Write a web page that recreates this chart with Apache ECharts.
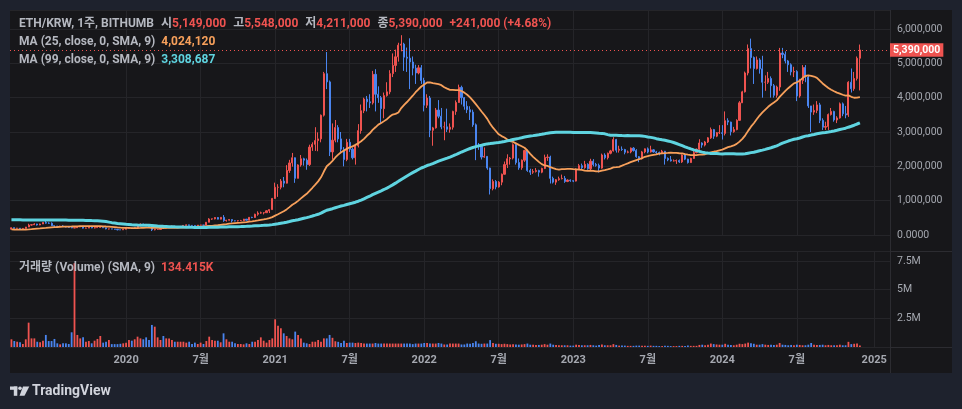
<!DOCTYPE html>
<html>
<head>
<meta charset="utf-8">
<script src="https://cdn.jsdelivr.net/npm/echarts@6/dist/echarts.min.js"></script>
<style>
html,body{margin:0;padding:0;background:#1e222d;overflow:hidden;}
#wrap{position:relative;width:962px;height:409px;}
.pnl{position:absolute;left:10px;top:10px;width:942px;height:363px;background:#17171a;}
.sep{position:absolute;background:#2c2c31;}
#c{position:absolute;left:0;top:0;width:962px;height:409px;}
</style>
</head>
<body>
<div id="wrap">
<div class="pnl"></div>
<div class="sep" style="left:890px;top:10px;width:1px;height:363px"></div>
<div class="sep" style="left:10px;top:251px;width:942px;height:1px"></div>
<div class="sep" style="left:10px;top:347px;width:942px;height:1px"></div>
<div id="c"></div>
</div>
<script>
const FONT = "Roboto, 'Noto Sans CJK KR', sans-serif";
const RED = '#ef5350', BLUE = '#4a85ef', ORANGE = '#f7a05b', CYAN = '#5fd4e0';
const TXT = '#b5b8c0', AXT = '#a5a8b0', GRID = '#252529';

// weekly categories
const firstWeek = '2019-04-01';
const categoryCount = 307;

// time-axis tick labels (first weekly candle of the period)
const xTickLabels = [
  ['2020-01-06','2020'],['2020-07-06','7월'],['2021-01-04','2021'],['2021-07-05','7월'],
  ['2022-01-03','2022'],['2022-07-04','7월'],['2023-01-02','2023'],['2023-07-03','7월'],
  ['2024-01-01','2024'],['2024-07-01','7월'],['2025-01-06','2025']
];

// weekly closes before the visible range (thousand KRW), used by the moving averages
const preCloses = [110,170,210,300,330,430,380,330,300,230,260,235,255,340,340,380,440,340,290,330,340,345,385,345,340,345,365,405,540,530,590,850,920,1020,
1650,1700,1300,1300,930,960,1030,940,950,780,610,500,440,420,540,670,720,810,740,760,620,670,570,540,510,500,530,505,525,525,460,360,340,310,320,225,245,275,260,255,220,230,225,235,235,200,125,125,97,97,150,150,170,
142,136,130,122,135,158,175,147,152,158,153,168];

// weekly candles [open, close, low, high] in thousand KRW
const ohlc2019 = [
[168,212,166,220],[212,196,190,218],[196,198,190,206],[198,186,180,204],[186,192,180,198],[192,232,188,235],[232,290,230,328],[290,298,272,318],
[298,320,290,342],[320,292,275,325],[292,320,285,330],[320,365,318,370],[365,345,330,435],[345,340,320,370],[340,270,265,368],[270,262,225,275],
[262,245,240,265],[245,262,240,270],[262,250,245,285],[250,232,220,252],[232,224,215,235],[224,205,200,228],[205,212,200,215],[212,233,208,235],
[233,256,230,265],[256,200,190,258],[200,202,195,215],[202,226,200,232],[226,205,198,228],[205,214,192,232],[214,218,208,228],[218,221,212,230],
[221,208,205,226],[208,178,165,210],[178,178,160,182],[178,174,170,180],[174,167,162,176],[167,152,135,170],[152,150,146,154],[150,168,148,170]];
const ohlc2020 = [
[168,196,165,198],[196,201,190,212],[201,197,188,204],[197,213,192,220],[213,262,212,265],[262,315,260,340],[315,310,285,330],[310,268,262,320],
[268,245,235,285],[245,152,115,250],[152,162,135,175],[162,162,155,175],[162,208,160,215],[208,195,190,215],[195,228,185,230],[228,238,220,240],
[238,258,235,275],[258,228,200,260],[228,242,220,245],[242,250,240,258],[250,280,240,285],[280,295,275,305],[295,280,270,300],[280,278,272,285],
[278,270,265,285],[270,288,265,290],[288,288,283,296],[288,286,280,292],[286,372,285,375],[372,465,370,490],[465,470,440,475],[470,510,455,520],
[510,462,455,525],[462,515,455,520],[515,420,385,580],[420,432,390,440],[432,450,420,460],[450,415,360,455],[415,412,400,420],[412,418,395,425],
[418,418,410,440],[418,462,410,470],[462,432,425,465],[432,515,430,520],[515,510,490,530],[510,605,505,620],[605,640,560,690],[640,645,620,680],
[645,650,600,665],[650,705,645,720],[705,740,640,740],[740,1065,735,1080]];
const ohlc2021 = [
[1065,1390,1080,1525],[1390,1390,1110,1480],[1390,1570,1330,1630],[1570,1510,1390,1690],[1510,1880,1500,2035],[1880,2100,1810,2190],[2100,2250,1990,2390],[2250,1650,1520,2260],
[1650,2040,1650,2060],[2040,2220,1990,2330],[2220,2180,2020,2250],[2180,2050,1900,2230],[2050,2560,2010,2630],[2560,2640,2450,2700],[2640,2750,2450,3140],[2750,2800,2440,2990],
[2800,3490,2700,3510],[3490,4700,3450,4750],[4700,4460,4250,5330],[4460,2420,2300,4500],[2420,2760,2200,3250],[2760,3130,2700,3350],[3130,2800,2700,3200],[2800,2500,2420,3000],
[2500,2200,2000,2560],[2200,2700,2150,2800],[2700,2500,2420,2800],[2500,2250,2200,2550],[2250,2600,2050,2620],[2600,3040,2550,3230],[3040,3620,2950,3800],[3620,3960,3550,4000],
[3960,3880,3600,4050],[3880,3850,3700,4100],[3850,4680,3800,4780],[4680,4100,3600,4830],[4100,4000,3850,4330],[4000,3680,3250,4050],[3680,4060,3400,4150],[4060,4170,4030,4450],
[4170,4700,4100,4800],[4700,4940,4600,5290],[4940,5190,4750,5400],[5190,5530,5050,5600],[5530,5560,5350,5820],[5560,5180,4780,5600],[5180,5150,4750,5460],[5150,5040,4250,5730],
[5040,4860,4650,5200],[4860,4720,4400,4960],[4720,4870,4680,4950],[4870,4500,4400,4950]];
const ohlc2022 = [
[4500,3780,3600,4580],[3780,3990,3700,4100],[3990,3050,2850,4050],[3050,3120,2600,3150],[3120,3640,3100,3700],[3640,3460,3400,3930],[3460,3150,3080,3700],[3150,3150,2760,3300],
[3150,3080,3000,3680],[3080,3140,2980,3250],[3140,3600,3070,3620],[3600,3860,3500,3920],[3860,4300,3850,4380],[4300,4000,3800,4350],[4000,3750,3650,4020],[3750,3650,3550,3900],
[3650,3580,3350,3750],[3580,3210,3150,3650],[3210,2620,2180,3250],[2620,2580,2480,2680],[2580,2270,2200,2650],[2270,2290,2250,2550],[2290,1950,1900,2300],[1950,1350,1180,1960],
[1350,1560,1300,1620],[1560,1400,1330,1600],[1400,1540,1380,1570],[1540,1770,1450,1790],[1770,2050,1760,2140],[2050,2220,1950,2350],[2220,2240,2050,2270],[2240,2630,2200,2670],
[2630,2110,2050,2680],[2110,1960,1900,2230],[1960,2180,1900,2200],[2180,2460,2130,2480],[2460,1880,1840,2480],[1880,1830,1750,1930],[1830,1850,1780,1920],[1850,1880,1820,1950],
[1880,1830,1700,1900],[1830,1940,1800,1960],[1940,2260,1920,2340],[2260,2270,2160,2350],[2270,1650,1500,2310],[1650,1540,1500,1700],[1540,1610,1460,1630],[1610,1640,1580,1700],
[1640,1650,1620,1760],[1650,1560,1520,1720],[1560,1600,1540,1620],[1600,1580,1550,1620]];
const ohlc2023 = [
[1580,1570,1540,1590],[1570,1920,1560,1940],[1920,2020,1900,2070],[2020,1960,1920,2080],[1960,2060,1930,2160],[2060,1930,1900,2090],[1930,2150,1890,2220],[2150,2050,2000,2210],
[2050,2030,1990,2100],[2030,1950,1820,2080],[1950,2330,1930,2370],[2330,2250,2200,2380],[2250,2380,2200,2400],[2380,2450,2350,2480],[2450,2780,2430,2850],[2780,2470,2400,2800],
[2470,2500,2400,2600],[2500,2490,2450,2580],[2490,2410,2350,2510],[2410,2420,2380,2460],[2420,2530,2380,2550],[2530,2460,2430,2560],[2460,2280,2250,2500],[2280,2220,2120,2300],
[2220,2420,2200,2450],[2420,2510,2380,2520],[2510,2420,2380,2550],[2420,2480,2400,2600],[2480,2420,2400,2500],[2420,2400,2350,2450],[2400,2390,2320,2430],[2390,2440,2380,2480],
[2440,2230,2050,2450],[2230,2190,2150,2260],[2190,2160,2140,2300],[2160,2160,2140,2200],[2160,2170,2070,2200],[2170,2130,2100,2200],[2130,2330,2100,2350],[2330,2210,2180,2380],
[2210,2110,2080,2220],[2110,2230,2100,2250],[2230,2400,2220,2500],[2400,2500,2380,2520],[2500,2680,2480,2790],[2680,2620,2540,2700],[2620,2710,2580,2740],[2710,2830,2680,2850],
[2830,3070,2800,3130],[3070,2880,2800,3090],[2880,2980,2850,3000],[2980,2980,2940,3200]];
const ohlc2024 = [
[2980,2960,2780,3200],[2960,3330,2900,3600],[3330,3290,3200,3400],[3290,3010,2900,3300],[3010,3070,2980,3150],[3070,3340,3050,3370],[3340,3850,3330,3900],[3850,4170,3850,4200],
[4170,4720,4150,4760],[4720,5430,4650,5550],[5430,5170,4850,5720],[5170,4850,4400,5200],[4850,5100,4820,5200],[5100,4840,4700,5150],[4840,4450,4000,5220],[4450,4450,4200,4650],
[4450,4560,4400,4750],[4560,4350,4000,4620],[4350,4070,4000,4400],[4070,4310,4000,4350],[4310,5300,4200,5450],[5300,5260,5150,5450],[5260,5070,5000,5350],[5070,4960,4750,5100],
[4960,4750,4650,5000],[4750,4760,4600,4900],[4760,4050,3900,4800],[4050,4500,4000,4550],[4500,4880,4400,4950],[4880,4600,4450,4950],[4600,3760,3700,4650],[3760,3580,3000,3760],
[3580,3630,3500,3800],[3630,3790,3550,3900],[3790,3340,3260,3850],[3340,3140,3060,3400],[3140,3160,3060,3300],[3160,3510,3060,3540],[3510,3600,3480,3700],[3600,3350,3300,3620],
[3350,3410,3260,3460],[3410,3820,3390,3860],[3820,3530,3460,3860],[3530,3500,3400,3760],[3500,4450,3440,4480],[4450,4260,4150,4850],[4260,4560,4200,4750],[4560,5149,4500,5200],
[5149,5390,4211,5548]];

// weekly volume, million ETH
const volume2019_2020 = [
0.67,0.52,0.46,0.41,0.26,0.67,2.12,0.75,0.75,0.46, 0.41,0.55,1.05,0.52,0.52,0.70,0.32,0.23,0.32,0.32,
0.26,1.28,7.3,1.05,0.75,0.84,0.46,0.52,0.32,0.55, 0.70,0.96,0.38,0.46,0.61,0.25,0.25,0.25,0.28,0.32,
0.38,0.61,0.55,0.67,0.90,0.75,0.67,0.84,0.61,1.92, 1.77,0.84,0.61,0.96,0.75,0.75,0.61,0.46,0.46,0.46,
0.46,0.38,0.46,0.26,0.38,0.26,0.38,0.26,0.52,0.90, 0.61,0.55,0.55,0.41,1.19,0.67,0.46,0.46,0.32,0.26,
0.26,0.23,0.32,0.26,0.46,0.46,0.61,0.84,0.55,0.38, 0.61,0.75];
const volume2021 = [
2.41,1.86,1.63,1.19,0.96,0.75,0.67,1.34,1.05,0.75, 0.38,0.32,0.26,0.46,0.46,0.61,0.45,0.75,0.75,1.05,
0.8,0.5,0.45,0.35,0.55,0.35,0.38,0.38,0.35,0.38, 0.35,0.3,0.3,0.3,0.3,0.35,0.3,0.3,0.3,0.3,
0.3,0.3,0.3,0.3,0.3,0.3,0.3,0.3,0.25,0.3, 0.3,0.3];
const volume2022 = [
0.35,0.35,0.3,0.3,0.3,0.35,0.3,0.22,0.22,0.3, 0.3,0.3,0.3,0.22,0.22,0.3,0.28,0.35,0.5,0.3,
0.28,0.3,0.3,0.6,0.35,0.28,0.28,0.25,0.28,0.25, 0.22,0.25,0.22,0.2,0.22,0.25,0.3,0.2,0.2,0.18,
0.18,0.2,0.25,0.2,0.3,0.2,0.18,0.15,0.15,0.15, 0.15,0.12];
const volume2023 = [
0.12,0.2,0.18,0.15,0.15,0.15,0.18,0.15,0.12,0.18, 0.22,0.15,0.15,0.15,0.25,0.18,0.12,0.12,0.12,0.1,
0.1,0.1,0.12,0.12,0.1,0.1,0.1,0.12,0.1,0.1, 0.08,0.08,0.1,0.1,0.08,0.08,0.08,0.1,0.1,0.08,
0.12,0.1,0.1,0.1,0.18,0.2,0.15,0.2,0.3,0.25, 0.22,0.2];
const volume2024 = [
0.2,0.28,0.2,0.18,0.15,0.2,0.28,0.25,0.3,0.38, 0.32,0.28,0.2,0.2,0.25,0.2,0.18,0.2,0.18,0.2,
0.35,0.2,0.18,0.15,0.18,0.15,0.2,0.18,0.15,0.15, 0.2,0.35,0.2,0.18,0.18,0.2,0.15,0.18,0.15,0.15,
0.15,0.2,0.15,0.15,0.45,0.25,0.28,0.3,0.134415];

// legend texts as shown
const symbolText = 'ETH/KRW, 1주, BITHUMB';
const ma25Name = 'MA (25, close, 0, SMA, 9)', ma25Text = '4,024,120';
const ma99Name = 'MA (99, close, 0, SMA, 9)', ma99Text = '3,308,687';
const volName = '거래량 (Volume) (SMA, 9)', volText = '134.415K';

// ---- build ----
const fmt = v => Math.round(v).toLocaleString('en-US');
const categories = [];
const t0 = Date.parse(firstWeek + 'T00:00:00Z');
for (let i = 0; i < categoryCount; i++) categories.push(new Date(t0 + i * 7 * 86400000).toISOString().slice(0, 10));
const tickMap = new Map(xTickLabels);

const ohlc = [].concat(ohlc2019, ohlc2020, ohlc2021, ohlc2022, ohlc2023, ohlc2024);
const candles = ohlc.map(r => r.map(v => v * 1000));
const closesAll = preCloses.concat(ohlc.map(r => r[1]));
function sma(n) {
  const off = preCloses.length;
  return ohlc.map((r, i) => {
    const e = off + i;
    if (e + 1 < n) return null;
    let s = 0;
    for (let k = e - n + 1; k <= e; k++) s += closesAll[k];
    return Math.round(s / n * 1000);
  });
}
const ma25 = sma(25), ma99 = sma(99);
const volumes = [].concat(volume2019_2020, volume2021, volume2022, volume2023, volume2024);
const volData = volumes.map((v, i) => ({
  value: Math.round(v * 1e6),
  itemStyle: { color: ohlc[i][1] >= ohlc[i][0] ? RED : BLUE }
}));

const last = candles[candles.length - 1];
const prevClose = candles[candles.length - 2][1];
const chg = last[1] - prevClose;
const pct = (chg / prevClose * 100).toFixed(2);
const lastVolume = volData[volData.length - 1].value;

const richBase = { fontSize: 12, fontFamily: FONT };
const rich = {
  g: Object.assign({ color: TXT }, richBase),
  gs: Object.assign({ color: TXT, padding: [0, 0, 0, 7] }, richBase),
  r: Object.assign({ color: RED }, richBase),
  rs: Object.assign({ color: RED, padding: [0, 0, 0, 7] }, richBase),
  o: Object.assign({ color: ORANGE, padding: [0, 0, 0, 6] }, richBase),
  c: Object.assign({ color: CYAN, padding: [0, 0, 0, 6] }, richBase),
  v: Object.assign({ color: RED, padding: [0, 0, 0, 6] }, richBase)
};
const headline = `{g|${symbolText}}{gs|시}{r|${fmt(last[0])}}{gs|고}{r|${fmt(last[3])}}{gs|저}{r|${fmt(last[2])}}{gs|종}{r|${fmt(last[1])}}{rs|${chg >= 0 ? '+' : ''}${fmt(chg)} (${chg >= 0 ? '+' : ''}${pct}%)}`;

const gridLineSeries = (ax) => ({
  type: 'line', xAxisIndex: ax, yAxisIndex: ax, data: categories.map(() => null),
  silent: true, z: 1, showSymbol: false,
  markLine: {
    silent: true, symbol: ['none', 'none'], z: 1, animation: false,
    label: { show: false },
    lineStyle: { color: GRID, width: 1, type: 'solid' },
    data: xTickLabels.map(d => ({ xAxis: d[0] }))
  }
});

const chart = echarts.init(document.getElementById('c'), null, { renderer: 'canvas' });
chart.setOption({
  animation: false,
  backgroundColor: 'transparent',
  textStyle: { fontFamily: FONT },
  title: [
    { left: 19, top: 18, padding: 0, text: headline, textStyle: { rich } },
    { left: 19, top: 36, padding: 0, text: `{g|${ma25Name}}{o|${ma25Text}}`, textStyle: { rich } },
    { left: 19, top: 54, padding: 0, text: `{g|${ma99Name}}{c|${ma99Text}}`, textStyle: { rich } },
    { left: 19, top: 262, padding: 0, text: `{g|${volName}}{v|${volText}}`, textStyle: { rich } }
  ],
  grid: [
    { left: 10, top: 10, width: 880, height: 225 },
    { left: 10, top: 251, width: 880, height: 96 }
  ],
  xAxis: [
    { type: 'category', gridIndex: 0, data: categories, boundaryGap: true,
      axisLine: { show: false }, axisTick: { show: false }, axisLabel: { show: false }, splitLine: { show: false } },
    { type: 'category', gridIndex: 1, data: categories, boundaryGap: true,
      axisLine: { show: false }, axisTick: { show: false }, splitLine: { show: false },
      axisLabel: { show: true, interval: (i, v) => tickMap.has(v), formatter: v => tickMap.get(v) || '',
        color: AXT, fontSize: 11, fontWeight: 'bold', margin: 8, fontFamily: FONT } }
  ],
  yAxis: [
    { type: 'value', gridIndex: 0, position: 'right', min: 0, max: 6554000, interval: 1000000,
      axisLine: { show: false }, axisTick: { show: false },
      splitLine: { show: true, lineStyle: { color: GRID, width: 1 } },
      axisLabel: { color: AXT, fontSize: 10.5, margin: 7, showMaxLabel: false, fontFamily: FONT,
        formatter: v => v === 0 ? '0.0000' : fmt(v) } },
    { type: 'value', gridIndex: 1, position: 'right', min: 0, max: 8360000, interval: 2500000,
      axisLine: { show: false }, axisTick: { show: false },
      splitLine: { show: true, lineStyle: { color: GRID, width: 1 } },
      axisLabel: { color: AXT, fontSize: 10.5, margin: 7, showMaxLabel: false, fontFamily: FONT,
        formatter: v => v === 0 ? '' : (v / 1e6) + 'M' } }
  ],
  series: [
    gridLineSeries(0),
    { type: 'candlestick', xAxisIndex: 0, yAxisIndex: 0, data: candles, barWidth: 1.6, z: 2,
      itemStyle: { color: RED, color0: BLUE, borderColor: RED, borderColor0: BLUE, borderWidth: 1 } },
    { type: 'line', xAxisIndex: 0, yAxisIndex: 0, data: ma25, showSymbol: false, z: 3,
      lineStyle: { color: ORANGE, width: 1.8 }, silent: true },
    { type: 'line', xAxisIndex: 0, yAxisIndex: 0, data: ma99, showSymbol: false, z: 4,
      lineStyle: { color: CYAN, width: 3 }, silent: true },
    { type: 'line', xAxisIndex: 0, yAxisIndex: 0, data: categories.map(() => null), clip: false, z: 5,
      markLine: { silent: true, symbol: ['none', 'none'], animation: false,
        lineStyle: { color: RED, width: 1, type: [1, 3] },
        label: { show: true, position: 'end', distance: 0, formatter: () => fmt(last[1]),
          color: '#ffffff', backgroundColor: RED, padding: [2, 3, 1, 3], fontSize: 10.5, fontWeight: 'bold', fontFamily: FONT },
        data: [{ yAxis: last[1] }] } },
    gridLineSeries(1),
    { type: 'bar', xAxisIndex: 1, yAxisIndex: 1, data: volData, barWidth: 1.8, z: 2 },
    { type: 'line', xAxisIndex: 1, yAxisIndex: 1, data: categories.map(() => null), clip: false, z: 5,
      markLine: { silent: true, symbol: ['none', 'none'], animation: false,
        lineStyle: { opacity: 0, width: 0 },
        label: { show: true, position: 'end', distance: 0, formatter: () => volText, offset: [0, -4],
          color: '#ffffff', backgroundColor: RED, padding: [2, 3, 1, 3], fontSize: 10.5, fontWeight: 'bold', fontFamily: FONT },
        data: [{ yAxis: lastVolume }] } }
  ],
  graphic: { elements: [
    { type: 'rect', shape: { x: 10, y: 386.5, width: 7.3, height: 3.3 }, style: { fill: '#d1d4dc' } },
    { type: 'rect', shape: { x: 13.8, y: 386.5, width: 3.5, height: 9.3 }, style: { fill: '#d1d4dc' } },
    { type: 'circle', shape: { cx: 20, cy: 388.2, r: 1.8 }, style: { fill: '#d1d4dc' } },
    { type: 'polygon', shape: { points: [[23, 386.5], [29.3, 386.5], [24.5, 395.8], [19.5, 395.8]] }, style: { fill: '#d1d4dc' } },
    { type: 'text', x: 32, y: 391.5, style: { text: 'TradingView', fill: '#d1d4dc', font: "bold 14px " + FONT, textVerticalAlign: 'middle' } }
  ] }
});
</script>
</body>
</html>
